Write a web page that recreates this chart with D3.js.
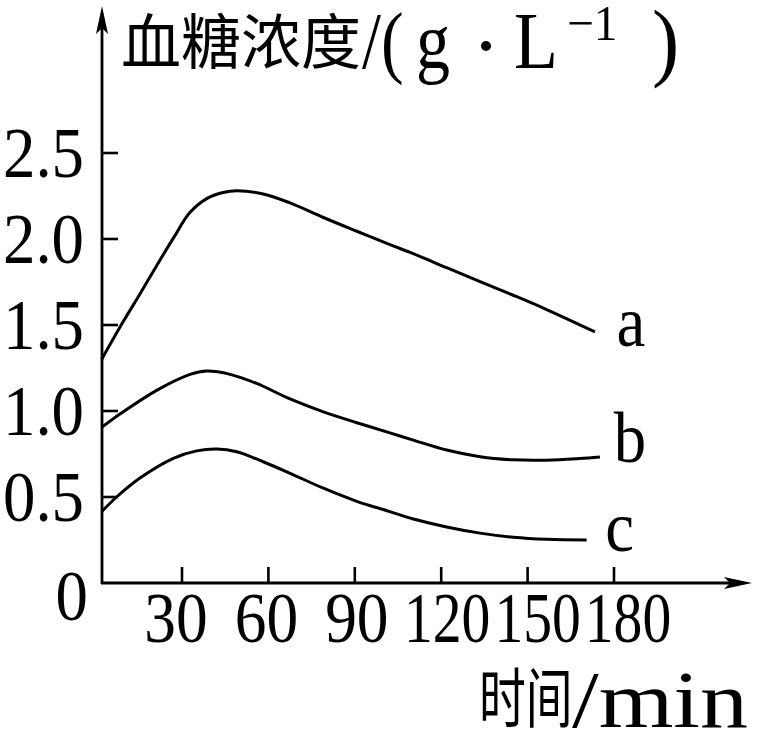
<!DOCTYPE html>
<html><head><meta charset="utf-8">
<script src="https://cdn.jsdelivr.net/npm/d3@7"></script>
<style>body{margin:0;background:#fff}</style>
</head><body>
<svg id="c" width="760" height="735"></svg>
<script>
// ---- data ----
const timeA  = [2.1, 9.6, 15.4, 21.2, 27, 32.8, 38.6, 44.3, 49, 58.2, 67.5, 79.1, 90.7, 102.2, 110.3, 121.9, 133.5, 145, 156.6, 173.4];
const valueA = [1.30, 1.52, 1.68, 1.845, 2.005, 2.155, 2.235, 2.27, 2.28, 2.262, 2.21, 2.125, 2.045, 1.967, 1.915, 1.833, 1.752, 1.673, 1.59, 1.46];
const timeB  = [2.1, 9.6, 21.2, 32.8, 38.6, 46.7, 55.9, 67.5, 79.1, 90.7, 102.2, 110.3, 121.9, 133.5, 145, 156.6, 168.1, 175.1];
const valueB = [0.905, 0.995, 1.12, 1.213, 1.232, 1.213, 1.16, 1.07, 0.995, 0.932, 0.873, 0.831, 0.773, 0.734, 0.716, 0.714, 0.724, 0.733];
const timeC  = [2.1, 7.3, 15.4, 27, 35.1, 42.1, 49, 58.2, 67.5, 79.1, 90.7, 102.2, 110.3, 121.9, 133.5, 145, 156.6, 170.5];
const valueC = [0.415, 0.50, 0.61, 0.725, 0.768, 0.779, 0.763, 0.705, 0.638, 0.551, 0.475, 0.415, 0.372, 0.326, 0.29, 0.266, 0.254, 0.25];
const seriesNames = ["a", "b", "c"];
const xTicks = [30, 60, 90, 120, 150, 180];
const xTickLabels = ["30", "60", "90", "120", "150", "180"];
const yTicks = [0.5, 1.0, 1.5, 2.0, 2.5];
const yTickLabels = ["0.5", "1.0", "1.5", "2.0", "2.5"];
const originLabel = "0";
const yTitleCJK = "血糖浓度";
const xTitleCJK = "时间";
const xTitleUnit = "/min";

// ---- layout ----
const svg = d3.select("#c");
const x = d3.scaleLinear().domain([0, 180]).range([95.6, 614]);
const y = d3.scaleLinear().domain([0, 2.5]).range([583, 153]);
const axX = 102, axY = 583;
const serif = "'Liberation Serif','Times New Roman',serif";
const cjk = "'Noto Sans CJK SC','Noto Sans CJK JP',sans-serif";

function label(px, py, str, anchor, size, sx, family) {
  return svg.append("text")
    .attr("transform", `translate(${px},${py}) scale(${sx},1)`)
    .attr("text-anchor", anchor)
    .attr("font-family", family || serif)
    .attr("font-size", size)
    .attr("fill", "#000")
    .text(str);
}

// axes
svg.append("line").attr("x1", axX).attr("x2", axX).attr("y1", axY + 1).attr("y2", 20)
  .attr("stroke", "#000").attr("stroke-width", 2.8);
svg.append("path").attr("d", `M${axX},6 L${axX - 6},34 L${axX},28 L${axX + 6},34 Z`).attr("fill", "#000");
svg.append("line").attr("x1", axX - 1).attr("x2", 740).attr("y1", axY).attr("y2", axY)
  .attr("stroke", "#000").attr("stroke-width", 2.8);
svg.append("path").attr("d", `M752,${axY} L724,${axY - 6} L730,${axY} L724,${axY + 6} Z`).attr("fill", "#000");

// ticks
svg.selectAll(".yt").data(yTicks).enter().append("line")
  .attr("x1", axX).attr("x2", axX + 16).attr("y1", d => y(d)).attr("y2", d => y(d))
  .attr("stroke", "#000").attr("stroke-width", 2.6);
svg.selectAll(".xt").data(xTicks).enter().append("line")
  .attr("x1", d => x(d)).attr("x2", d => x(d)).attr("y1", axY).attr("y2", axY - 16)
  .attr("stroke", "#000").attr("stroke-width", 2.6);

// tick labels
yTicks.forEach((t, i) => label(84, y(t) + 24, yTickLabels[i], "end", 72, 0.9));
label(88, 620, originLabel, "end", 72, 0.9);
xTicks.forEach((t, i) => label(x(t) - 6 + i * 4, 642, xTickLabels[i], "middle", 72,
  xTickLabels[i].length > 2 ? 0.8 : 0.88));

// curves
const line = d3.line().x(d => x(d[0])).y(d => y(d[1])).curve(d3.curveCatmullRom.alpha(0.5));
const series = [d3.zip(timeA, valueA), d3.zip(timeB, valueB), d3.zip(timeC, valueC)];
series.forEach(s => svg.append("path").attr("d", line(s))
  .attr("fill", "none").attr("stroke", "#000").attr("stroke-width", 3));

// series labels
const lastPts = series.map(s => s[s.length - 1]);
label(x(lastPts[0][0]) + 36, y(lastPts[0][1]) + 14, seriesNames[0], "middle", 72, 0.9);
label(x(lastPts[1][0]) + 30, y(lastPts[1][1]) + 5, seriesNames[1], "middle", 72, 0.9);
label(x(lastPts[2][0]) + 33, y(lastPts[2][1]) + 11, seriesNames[2], "middle", 72, 0.9);

// y title
label(121, 64, yTitleCJK, "start", 60, 1, cjk);
label(362, 68, "/(", "start", 80, 0.85);
label(416, 68, "g", "start", 80, 0.85);
svg.append("circle").attr("cx", 486).attr("cy", 46).attr("r", 5).attr("fill", "#000");
label(514, 68, "L", "start", 80, 0.9);
label(567, 40, "−1", "start", 50, 0.95);
label(652, 70, ")", "start", 86, 0.95);

// x title
label(479, 722, xTitleCJK, "start", 65, 0.72, cjk);
label(572, 727, xTitleUnit, "start", 80, 1.2);
</script>
</body></html>
